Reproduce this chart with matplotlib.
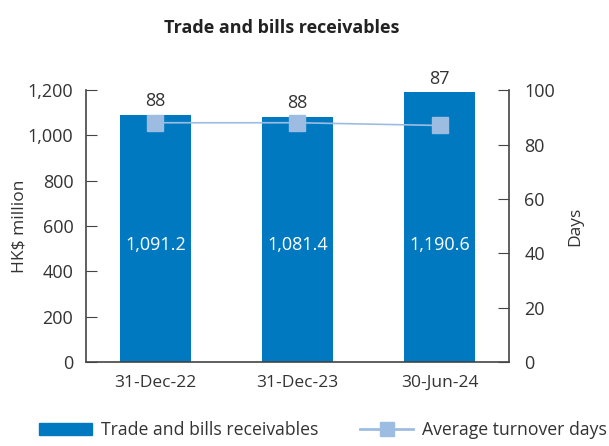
import numpy as np
import matplotlib.pyplot as plt
from matplotlib.lines import Line2D
from matplotlib.patches import Patch

periods = ['31-Dec-22', '31-Dec-23', '30-Jun-24']
receivables = [1091.2, 1081.4, 1190.6]
turnover_days = [88, 88, 87]

bar_color = '#0079C1'
line_color = '#9DBCE2'
text_color = '#333333'

plt.rcParams['font.family'] = ['Open Sans', 'DejaVu Sans']
plt.rcParams['font.size'] = 13

fig = plt.figure(figsize=(6.09, 4.46), dpi=100)
ax = fig.add_axes([0.141, 0.188, 0.695, 0.61])
x = np.arange(len(periods))

ax.bar(x, receivables, width=0.5, color=bar_color, zorder=2)
ax.set_xlim(-0.49, 2.49)
ax.set_ylim(0, 1200)
ax.set_yticks(range(0, 1201, 200))
ax.set_yticklabels([f'{v:,}' for v in range(0, 1201, 200)])
ax.set_xticks(x)
ax.set_xticklabels(periods)
ax.tick_params(axis='x', length=0, pad=9, colors=text_color, labelsize=12.5)
ax.tick_params(axis='y', direction='in', length=8, colors='#444444', labelcolor=text_color, labelsize=13, pad=9)
ax.set_ylabel('HK$ million', color=text_color, fontsize=12.5, labelpad=0)
for s in ['top', 'right']:
    ax.spines[s].set_visible(False)
for s in ['left', 'bottom']:
    ax.spines[s].set_color('#444444')
    ax.spines[s].set_linewidth(1.2)

for xi, v in zip(x, receivables):
    ax.text(xi, 515, f'{v:,.1f}', ha='center', va='center', color='white', fontsize=13)
for xi, v, d in zip(x, receivables, turnover_days):
    ax.text(xi, v + 20, str(d), ha='center', va='bottom', color=text_color, fontsize=13)

ax2 = ax.twinx()
ax2.plot(x, turnover_days, color=line_color, lw=1.2, marker='s', ms=12,
         markerfacecolor=line_color, markeredgecolor=line_color, zorder=3)
ax2.set_ylim(0, 100)
ax2.set_yticks(range(0, 101, 20))
ax2.tick_params(axis='y', direction='in', length=8, colors='#444444', labelcolor=text_color, labelsize=13, pad=11)
ax2.set_ylabel('Days', color=text_color, fontsize=12.5, labelpad=9)
for s in ['top', 'left', 'bottom']:
    ax2.spines[s].set_visible(False)
ax2.spines['right'].set_color('#444444')
ax2.spines['right'].set_linewidth(1.2)

fig.text(0.462, 0.937, 'Trade and bills receivables', ha='center', va='center',
         fontsize=13, fontweight='bold', color='#222222')

handles = [Patch(color=bar_color),
           Line2D([], [], color=line_color, lw=2, marker='s', ms=10,
                  markerfacecolor=line_color, markeredgecolor=line_color)]
fig.legend(handles, ['Trade and bills receivables', 'Average turnover days'],
           loc='lower left', bbox_to_anchor=(0.038, -0.02), ncol=2, frameon=False,
           handlelength=3.0, handleheight=0.65, columnspacing=2.4, handletextpad=0.5,
           fontsize=12.7, labelcolor=text_color)

fig.savefig('out.png', dpi=100)
